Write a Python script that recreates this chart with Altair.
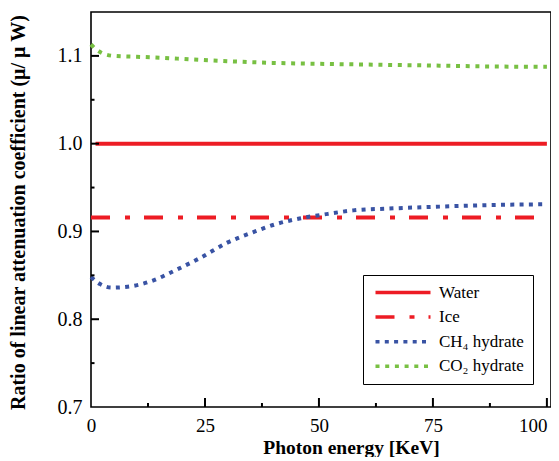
import altair as alt
import pandas as pd

series = ["Water", "Ice", "CH₄ hydrate", "CO₂ hydrate"]
colors = ["#ed1c24", "#ed1c24", "#3953a4", "#78c043"]
dashes = [[1, 0], [19, 15, 5, 14], [4, 5.3], [4, 5.7]]

water_x = [1, 100]
water_y = [1.0, 1.0]
ice_x = [0, 100]
ice_y = [0.916, 0.916]
ch4_x = [0, 2, 4.5, 8, 13, 19, 24, 30, 35.5, 41, 46, 52, 57.5, 65, 75, 87, 100]
ch4_y = [0.848, 0.840, 0.836, 0.837, 0.843, 0.857, 0.870, 0.8875, 0.899, 0.909,
         0.915, 0.920, 0.924, 0.926, 0.928, 0.930, 0.931]
co2_x = [0, 1, 2.5, 5, 10, 15, 22, 30, 40, 50, 62, 75, 87, 100]
co2_y = [1.113, 1.108, 1.103, 1.100, 1.099, 1.098, 1.096, 1.094, 1.092, 1.091,
         1.090, 1.089, 1.088, 1.0875]

x_labels = [0, 25, 50, 75, 100]
y_labels = [0.7, 0.8, 0.9, 1.0, 1.1]
x_major = [25, 50, 75, 100]
x_minor = [12.5, 37.5, 62.5, 87.5]
y_major = [0.8, 0.9, 1.0, 1.1]
y_minor = [0.75, 0.85, 0.95, 1.05]

rows = []
for name, xs, ys in [(series[0], water_x, water_y), (series[1], ice_x, ice_y),
                     (series[2], ch4_x, ch4_y), (series[3], co2_x, co2_y)]:
    for xv, yv in zip(xs, ys):
        rows.append({"series": name, "x": xv, "y": yv})
df = pd.DataFrame(rows)

W, H = 460, 395
FONT = "Liberation Serif"
XTITLE = "Photon energy [KeV]"
YTITLE = "Ratio of linear attenuation coefficient (μ/ μ W)"
xscale = alt.Scale(domain=[0, 100.9], nice=False, zero=False)
yscale = alt.Scale(domain=[0.7, 1.15], nice=False, zero=False)

x_axis = alt.Axis(
    values=x_labels, ticks=False, domain=False, grid=False, labelFlush=False,
    labelAlign=alt.ExprRef(expr="datum.value >= 100 ? 'right' : 'center'"),
    labelPadding=9, labelFont=FONT, labelFontSize=19, labelColor="black",
    title=XTITLE, titleFont=FONT, titleFontSize=19.5,
    titleFontWeight="bold", titleColor="black",
    titleX=260, titleY=46, titleAlign="center", titleBaseline="alphabetic")
y_axis = alt.Axis(
    values=y_labels, format=".1f", ticks=False, domain=False, grid=False,
    labelFlush=False, labelPadding=9, labelFont=FONT, labelFontSize=20,
    labelColor="black",
    title=YTITLE, titleFont=FONT,
    titleFontSize=20, titleFontWeight="bold", titleColor="black",
    titleX=-73, titleY=200, titleAngle=270, titleAlign="center",
    titleBaseline="middle")

legend = alt.Legend(
    title=None, orient="none", legendX=272, legendY=263,
    symbolType="M-1,0H10", symbolSize=100, symbolStrokeWidth=3.5,
    labelFont=FONT, labelFontSize=17, labelColor="black", labelOffset=50,
    labelLimit=0, padding=9, rowPadding=6.6,
    strokeColor="black", fillColor="white",
)

lines = alt.Chart(df).mark_line(strokeWidth=4, strokeCap="butt", interpolate="monotone").encode(
    x=alt.X("x:Q", scale=xscale, axis=x_axis, title=XTITLE),
    y=alt.Y("y:Q", scale=yscale, axis=y_axis, title=YTITLE),
    color=alt.Color("series:N", scale=alt.Scale(domain=series, range=colors), legend=legend),
    strokeDash=alt.StrokeDash("series:N", scale=alt.Scale(domain=series, range=dashes), legend=legend),
    detail="series:N",
)

def xticks(vals, length):
    return alt.Chart(pd.DataFrame({"x": vals})).mark_rule(color="black", strokeWidth=2).encode(
        x=alt.X("x:Q", scale=xscale, axis=x_axis, title=XTITLE),
        y=alt.value(H), y2=alt.value(H - length))

def yticks(vals, length):
    return alt.Chart(pd.DataFrame({"y": vals})).mark_rule(color="black", strokeWidth=2).encode(
        y=alt.Y("y:Q", scale=yscale, axis=y_axis, title=YTITLE),
        x=alt.value(0), x2=alt.value(length))

chart = alt.layer(
    lines, xticks(x_major, 9), xticks(x_minor, 4), yticks(y_major, 8), yticks(y_minor, 3.5)
).properties(
    width=W, height=H, background="white",
    padding={"left": 83, "top": 4, "right": 0, "bottom": 50},
    autosize=alt.AutoSizeParams(type="none"),
).configure_view(stroke="black", strokeWidth=1.6)

chart.save("out.html", embed_options={"renderer": "svg", "actions": False})
